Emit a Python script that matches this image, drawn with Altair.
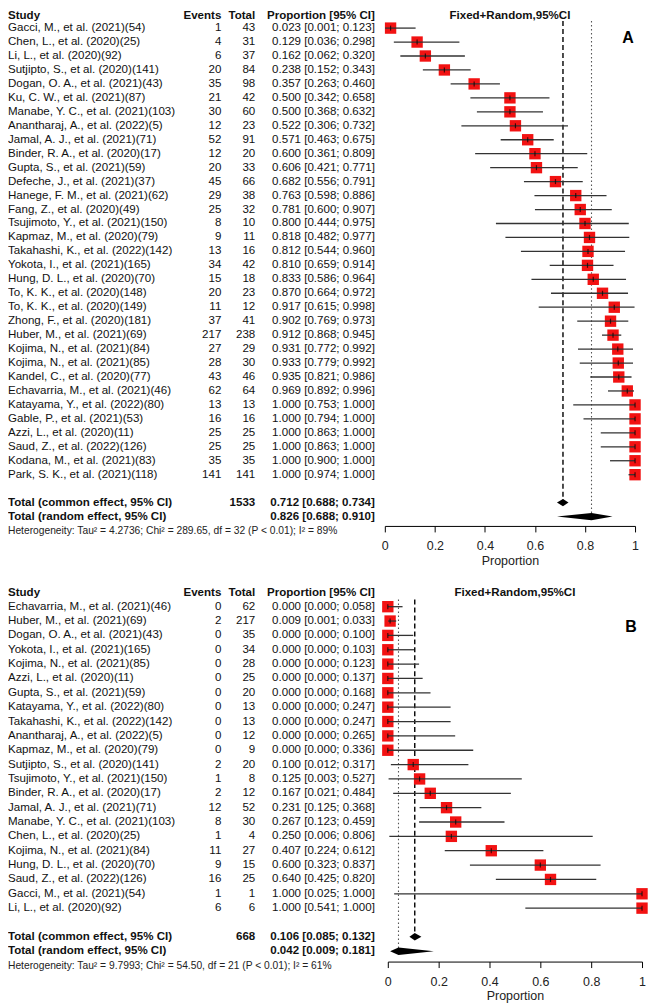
import altair as alt
import pandas as pd

# ---------------- Panel A data ----------------
studies_a = ["Gacci, M., et al. (2021)(54)", "Chen, L., et al. (2020)(25)", "Li, L., et al. (2020)(92)",
             "Sutjipto, S., et al. (2020)(141)", "Dogan, O. A., et al. (2021)(43)", "Ku, C. W., et al. (2021)(87)",
             "Manabe, Y. C., et al. (2021)(103)", "Anantharaj, A., et al. (2022)(5)", "Jamal, A. J., et al. (2021)(71)",
             "Binder, R. A., et al. (2020)(17)", "Gupta, S., et al. (2021)(59)", "Defeche, J., et al. (2021)(37)",
             "Hanege, F. M., et al. (2021)(62)", "Fang, Z., et al. (2020)(49)", "Tsujimoto, Y., et al. (2021)(150)",
             "Kapmaz, M., et al. (2020)(79)", "Takahashi, K., et al. (2022)(142)", "Yokota, I., et al. (2021)(165)",
             "Hung, D. L., et al. (2020)(70)", "To, K. K., et al. (2020)(148)", "To, K. K., et al. (2020)(149)",
             "Zhong, F., et al. (2020)(181)", "Huber, M., et al. (2021)(69)", "Kojima, N., et al. (2021)(84)",
             "Kojima, N., et al. (2021)(85)", "Kandel, C., et al. (2020)(77)", "Echavarria, M., et al. (2021)(46)",
             "Katayama, Y., et al. (2022)(80)", "Gable, P., et al. (2021)(53)", "Azzi, L., et al. (2020)(11)",
             "Saud, Z., et al. (2022)(126)", "Kodana, M., et al. (2021)(83)", "Park, S. K., et al. (2021)(118)"]
events_a = [1, 4, 6, 20, 35, 21, 30, 12, 52, 12, 20, 45, 29, 25, 8, 9, 13, 34, 15, 20, 11, 37, 217, 27, 28,
            43, 62, 13, 16, 25, 25, 35, 141]
totals_a = [43, 31, 37, 84, 98, 42, 60, 23, 91, 20, 33, 66, 38, 32, 10, 11, 16, 42, 18, 23, 12, 41, 238, 29, 30,
            46, 64, 13, 16, 25, 25, 35, 141]
prop_a = [0.023, 0.129, 0.162, 0.238, 0.357, 0.500, 0.500, 0.522, 0.571, 0.600, 0.606, 0.682, 0.763, 0.781,
          0.800, 0.818, 0.812, 0.810, 0.833, 0.870, 0.917, 0.902, 0.912, 0.931, 0.933, 0.935, 0.969,
          1.000, 1.000, 1.000, 1.000, 1.000, 1.000]
lo_a = [0.001, 0.036, 0.062, 0.152, 0.263, 0.342, 0.368, 0.306, 0.463, 0.361, 0.421, 0.556, 0.598, 0.600,
        0.444, 0.482, 0.544, 0.659, 0.586, 0.664, 0.615, 0.769, 0.868, 0.772, 0.779, 0.821, 0.892,
        0.753, 0.794, 0.863, 0.863, 0.900, 0.974]
hi_a = [0.123, 0.298, 0.320, 0.343, 0.460, 0.658, 0.632, 0.732, 0.675, 0.809, 0.771, 0.791, 0.886, 0.907,
        0.975, 0.977, 0.960, 0.914, 0.964, 0.972, 0.998, 0.973, 0.945, 0.992, 0.992, 0.986, 0.996,
        1.000, 1.000, 1.000, 1.000, 1.000, 1.000]
summary_total_a = ["1533", ""]
summary_est_a = [0.712, 0.826]
summary_lo_a = [0.688, 0.688]
summary_hi_a = [0.734, 0.910]
hetero_a = "Heterogeneity: Tau² = 4.2736; Chi² = 289.65, df = 32 (P < 0.01); I² = 89%"

# ---------------- Panel B data ----------------
studies_b = ["Echavarria, M., et al. (2021)(46)", "Huber, M., et al. (2021)(69)", "Dogan, O. A., et al. (2021)(43)",
             "Yokota, I., et al. (2021)(165)", "Kojima, N., et al. (2021)(85)", "Azzi, L., et al. (2020)(11)",
             "Gupta, S., et al. (2021)(59)", "Katayama, Y., et al. (2022)(80)", "Takahashi, K., et al. (2022)(142)",
             "Anantharaj, A., et al. (2022)(5)", "Kapmaz, M., et al. (2020)(79)", "Sutjipto, S., et al. (2020)(141)",
             "Tsujimoto, Y., et al. (2021)(150)", "Binder, R. A., et al. (2020)(17)", "Jamal, A. J., et al. (2021)(71)",
             "Manabe, Y. C., et al. (2021)(103)", "Chen, L., et al. (2020)(25)", "Kojima, N., et al. (2021)(84)",
             "Hung, D. L., et al. (2020)(70)", "Saud, Z., et al. (2022)(126)", "Gacci, M., et al. (2021)(54)",
             "Li, L., et al. (2020)(92)"]
events_b = [0, 2, 0, 0, 0, 0, 0, 0, 0, 0, 0, 2, 1, 2, 12, 8, 1, 11, 9, 16, 1, 6]
totals_b = [62, 217, 35, 34, 28, 25, 20, 13, 13, 12, 9, 20, 8, 12, 52, 30, 4, 27, 15, 25, 1, 6]
prop_b = [0.000, 0.009, 0.000, 0.000, 0.000, 0.000, 0.000, 0.000, 0.000, 0.000, 0.000, 0.100, 0.125, 0.167,
          0.231, 0.267, 0.250, 0.407, 0.600, 0.640, 1.000, 1.000]
lo_b = [0.000, 0.001, 0.000, 0.000, 0.000, 0.000, 0.000, 0.000, 0.000, 0.000, 0.000, 0.012, 0.003, 0.021,
        0.125, 0.123, 0.006, 0.224, 0.323, 0.425, 0.025, 0.541]
hi_b = [0.058, 0.033, 0.100, 0.103, 0.123, 0.137, 0.168, 0.247, 0.247, 0.265, 0.336, 0.317, 0.527, 0.484,
        0.368, 0.459, 0.806, 0.612, 0.837, 0.820, 1.000, 1.000]
summary_total_b = ["668", ""]
summary_est_b = [0.106, 0.042]
summary_lo_b = [0.085, 0.009]
summary_hi_b = [0.132, 0.181]
hetero_b = "Heterogeneity: Tau² = 9.7993; Chi² = 54.50, df = 21 (P < 0.01); I² = 61%"

summary_labels = ["Total (common effect, 95% CI)", "Total (random effect, 95% CI)"]
summary_kinds = ["common", "random"]
header_labels = ["Study", "Events", "Total", "Proportion [95% CI]"]
plot_title = "Fixed+Random,95%CI"
axis_ticks = [0, 0.2, 0.4, 0.6, 0.8, 1]

FONT = "Liberation Sans"
FS = 11.6
TXT = "#111111"
W = 640
X_STUDY = 0
X_EVENTS = 214
X_TOTAL = 248
X_PROP = 368


def panel(studies, events, totals, props, los, his, s_total, s_est, s_lo, s_hi, hetero, letter,
          x_range, y_first, dy, height, header_y, letter_xy):
    n = len(studies)
    df = pd.DataFrame({
        "row": list(range(n)),
        "study": studies,
        "events": [str(e) for e in events],
        "total": [str(t) for t in totals],
        "est": props, "lo": los, "hi": his,
    })
    df["ci"] = [f"{p:.3f} [{l:.3f}; {h:.3f}]" for p, l, h in zip(props, los, his)]

    sdf = pd.DataFrame({
        "row": [n + 1, n + 2], "label": summary_labels, "total": s_total,
        "est": s_est, "lo": s_lo, "hi": s_hi, "kind": summary_kinds,
    })
    sdf["ci"] = [f"{p:.3f} [{l:.3f}; {h:.3f}]" for p, l, h in zip(s_est, s_lo, s_hi)]
    sdf["top"] = -0.5

    hh = 0.26
    dia_rows = []
    for k, r, e, l, h in zip(summary_kinds, sdf["row"], s_est, s_lo, s_hi):
        dia_rows.append({"kind": k, "x": l, "y1": r, "y2": r})
        dia_rows.append({"kind": k, "x": e, "y1": r - hh, "y2": r + hh})
        dia_rows.append({"kind": k, "x": h, "y1": r, "y2": r})
    dia = pd.DataFrame(dia_rows)

    het = pd.DataFrame({"row": [n + 3], "txt": [hetero]})

    ymin = -y_first / dy
    ymax = (height - y_first) / dy
    yscale = alt.Scale(domain=[ymin, ymax], reverse=True, nice=False, zero=False)
    xscale = alt.Scale(domain=[0, 1], range=x_range, nice=False, zero=False)
    xaxis = alt.Axis(values=axis_ticks, format="~g", title="Proportion", grid=False,
                     domainColor="black", domainWidth=1, tickColor="black", tickWidth=1, tickSize=6,
                     labelFont=FONT, labelFontSize=12.5, labelColor="#222222", labelPadding=8,
                     labelFlush=False, titleFont=FONT, titleFontSize=12.5, titleFontWeight="normal",
                     titleColor="#222222", titlePadding=2)

    def X(f):
        return alt.X(f, type="quantitative", scale=xscale, axis=xaxis)

    def Y(f):
        return alt.Y(f, type="quantitative", scale=yscale, axis=None)

    base = alt.Chart(df)
    sbase = alt.Chart(sdf)

    ref_common = sbase.transform_filter("datum.kind == 'common'").mark_rule(
        color="black", strokeWidth=1.4, strokeDash=[5, 3]).encode(x=X("est"), y=Y("top"), y2="row")
    ref_random = sbase.transform_filter("datum.kind == 'random'").mark_rule(
        color="#555555", strokeWidth=1.1, strokeDash=[1.5, 2.5]).encode(x=X("est"), y=Y("top"), y2="row")

    squares = base.mark_square(size=130, color="#f21212", opacity=1).encode(x=X("est"), y=Y("row"))
    ci = base.mark_rule(color="#333333", strokeWidth=1.3).encode(x=X("lo"), x2="hi", y=Y("row"))
    ticks = base.mark_point(shape="M0,-1L0,1", size=25, filled=False, stroke="black",
                            strokeWidth=1.2).encode(x=X("est"), y=Y("row"))
    diamonds = alt.Chart(dia).mark_area(color="black", orient="vertical").encode(
        x=X("x"), y=Y("y1"), y2="y2", detail="kind:N")

    tstyle = dict(baseline="middle", font=FONT, fontSize=FS, color=TXT)
    t_study = base.mark_text(align="left", **tstyle).encode(x=alt.value(X_STUDY), y=Y("row"), text="study:N")
    t_events = base.mark_text(align="right", **tstyle).encode(x=alt.value(X_EVENTS), y=Y("row"), text="events:N")
    t_total = base.mark_text(align="right", **tstyle).encode(x=alt.value(X_TOTAL), y=Y("row"), text="total:N")
    t_ci = base.mark_text(align="right", **tstyle).encode(x=alt.value(X_PROP), y=Y("row"), text="ci:N")

    bstyle = dict(baseline="middle", font=FONT, fontSize=FS, color=TXT, fontWeight="bold")
    s_label = sbase.mark_text(align="left", **bstyle).encode(x=alt.value(X_STUDY), y=Y("row"), text="label:N")
    s_tot = sbase.mark_text(align="right", **bstyle).encode(x=alt.value(X_TOTAL), y=Y("row"), text="total:N")
    s_ci = sbase.mark_text(align="right", **bstyle).encode(x=alt.value(X_PROP), y=Y("row"), text="ci:N")

    t_het = alt.Chart(het).mark_text(align="left", baseline="middle", font=FONT, fontSize=10.3,
                                     color="#222222").encode(x=alt.value(X_STUDY), y=Y("row"), text="txt:N")

    headers = []
    for lab, xx, al in zip(header_labels, [X_STUDY, X_EVENTS, X_TOTAL, X_PROP], ["left", "right", "right", "right"]):
        headers.append(alt.Chart(pd.DataFrame({"h": [lab]})).mark_text(align=al, **bstyle).encode(
            x=alt.value(xx), y=alt.value(header_y), text="h:N"))
    title_x = (x_range[0] + x_range[1]) / 2
    headers.append(alt.Chart(pd.DataFrame({"h": [plot_title]})).mark_text(align="center", **bstyle).encode(
        x=alt.value(title_x), y=alt.value(header_y), text="h:N"))
    letter_mark = alt.Chart(pd.DataFrame({"h": [letter]})).mark_text(
        align="center", baseline="middle", font=FONT, fontSize=16, fontWeight="bold", color="black").encode(
        x=alt.value(letter_xy[0]), y=alt.value(letter_xy[1]), text="h:N")

    return alt.layer(ref_common, ref_random, squares, ci, ticks, diamonds,
                     t_study, t_events, t_total, t_ci, s_label, s_tot, s_ci, t_het,
                     *headers, letter_mark).properties(width=W, height=height)


pa = panel(studies_a, events_a, totals_a, prop_a, lo_a, hi_a, summary_total_a, summary_est_a,
           summary_lo_a, summary_hi_a, hetero_a, "A",
           x_range=[378, 629], y_first=17.6, dy=14.0, height=517, header_y=5.8, letter_xy=(622, 28))
pb = panel(studies_b, events_b, totals_b, prop_b, lo_b, hi_b, summary_total_b, summary_est_b,
           summary_lo_b, summary_hi_b, hetero_b, "B",
           x_range=[381, 636], y_first=21, dy=14.4, height=377, header_y=7, letter_xy=(625, 41))

chart = alt.vconcat(pa, pb, spacing=19).resolve_scale(x="independent", y="independent").properties(
    padding=0).configure_view(stroke=None)

chart.save("out.html", embed_options={"renderer": "svg", "actions": False})
